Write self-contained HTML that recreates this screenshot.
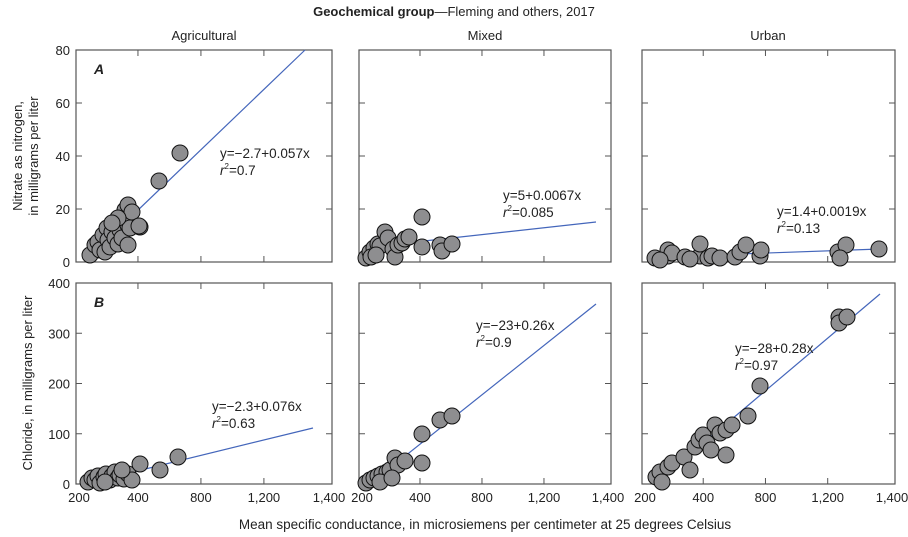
<!DOCTYPE html>
<html><head><meta charset="utf-8"><style>
html,body{margin:0;padding:0;background:#fff}
svg{display:block}
text{font-family:"Liberation Sans Narrow","Liberation Sans",sans-serif;fill:#222}
</style></head><body>
<svg id="s" width="908" height="537" viewBox="0 0 908 537" xmlns="http://www.w3.org/2000/svg">
<text x="454" y="16" font-size="13" text-anchor="middle"><tspan font-weight="bold">Geochemical group</tspan>—Fleming and others, 2017</text>
<text x="204" y="40" font-size="13" text-anchor="middle">Agricultural</text>
<text x="485" y="40" font-size="13" text-anchor="middle">Mixed</text>
<text x="768" y="40" font-size="13" text-anchor="middle">Urban</text>
<text transform="translate(22,156) rotate(-90)" font-size="13" text-anchor="middle">Nitrate as nitrogen,</text>
<text transform="translate(38,156) rotate(-90)" font-size="13" text-anchor="middle">in milligrams per liter</text>
<text transform="translate(32,383) rotate(-90)" font-size="13" text-anchor="middle">Chloride, in milligrams per liter</text>
<text x="485" y="529" font-size="13.5" text-anchor="middle">Mean specific conductance, in microsiemens per centimeter at 25 degrees Celsius</text>
<g id="g"></g>
</svg>
<script>
var g=document.getElementById('g'),NS='http://www.w3.org/2000/svg';
function el(n,a,t){var e=document.createElementNS(NS,n);for(var k in a)e.setAttribute(k,a[k]);if(t!=null)e.textContent=t;g.appendChild(e);return e;}
var cols=[[76,332],[359,611],[642,895]],rows=[[50,262,80,20],[283,484,400,100]];
var fr=[0.242,0.488,0.734];
rows.forEach(function(r,ri){cols.forEach(function(c,ci){
 el('rect',{x:c[0],y:r[0],width:c[1]-c[0],height:r[1]-r[0],fill:'none',stroke:'#555','stroke-width':1.2});
 for(var v=r[3];v<r[2];v+=r[3]){var y=r[1]-(v/r[2])*(r[1]-r[0]);
  el('line',{x1:c[0],x2:c[0]+6,y1:y,y2:y,stroke:'#555'});el('line',{x1:c[1]-6,x2:c[1],y1:y,y2:y,stroke:'#555'});}
 fr.forEach(function(f){var x=c[0]+f*(c[1]-c[0]);
  el('line',{x1:x,x2:x,y1:r[0],y2:r[0]+6,stroke:'#555'});el('line',{x1:x,x2:x,y1:r[1]-6,y2:r[1],stroke:'#555'});});
 if(ci==0){for(var v=0;v<=r[2];v+=r[3]){var y=r[1]-(v/r[2])*(r[1]-r[0]);el('text',{x:c[0]-6,y:y+5,'font-size':13,'text-anchor':'end'},v);}}
 if(ri==1){
  el('text',{x:c[0]+3,y:502,'font-size':13,'text-anchor':'middle'},'200');
  ['400','800','1,200'].forEach(function(l,i){el('text',{x:c[0]+fr[i]*(c[1]-c[0]),y:502,'font-size':13,'text-anchor':'middle'},l);});
  el('text',{x:c[1]-3,y:502,'font-size':13,'text-anchor':'middle'},'1,400');}
});});
var pts=[
[[90,255],[95,245],[98,242],[100,250],[103,235],[105,252],[107,228],[108,240],[110,247],[112,232],[115,238],[118,244],[120,230],[122,238],[125,220],[128,225],[130,228],[128,245],[125,210],[128,205],[132,212],[118,218],[112,223],[140,227],[139,226],[180,153],[159,181]],
[[366,258],[370,252],[374,248],[378,244],[380,246],[385,232],[388,238],[393,249],[395,257],[398,245],[402,243],[405,239],[409,237],[422,217],[422,247],[440,245],[442,251],[452,244],[371,257],[376,255]],
[[655,258],[668,256],[668,250],[672,253],[685,257],[700,256],[700,244],[708,258],[712,256],[720,258],[735,257],[740,252],[746,245],[760,256],[761,250],[838,252],[846,245],[879,249],[840,258],[660,260],[690,259]],
[[88,482],[92,478],[95,480],[98,476],[100,483],[104,477],[106,474],[110,480],[112,476],[115,472],[118,478],[120,475],[124,479],[128,474],[132,480],[105,482],[140,464],[160,470],[178,457],[122,470]],
[[366,483],[370,480],[374,478],[378,476],[382,474],[387,472],[390,470],[395,458],[398,465],[405,461],[422,463],[422,434],[440,420],[452,416],[380,482],[392,478]],
[[656,477],[660,472],[668,467],[672,463],[684,457],[690,470],[695,447],[699,440],[703,435],[707,443],[711,450],[715,425],[720,433],[726,430],[732,425],[726,455],[748,416],[760,386],[839,317],[839,323],[847,317],[662,482]]];
var lines=[[88,258,305,50],[370,247,596,222],[654,257,880,249],[88,483,313,428],[370,484,596,304],[655,484,880,294]];
[0,1,2,3,4,5].forEach(function(i){
 el('line',{x1:lines[i][0],y1:lines[i][1],x2:lines[i][2],y2:lines[i][3],stroke:'#4466bb','stroke-width':1.2});
 pts[i].forEach(function(p){el('circle',{cx:p[0],cy:p[1],r:8,fill:'#8e8e90',stroke:'#111','stroke-width':1});});
});
var eq=[[220,158,'y=−2.7+0.057x','0.7'],[503,200,'y=5+0.0067x','0.085'],[777,216,'y=1.4+0.0019x','0.13'],[212,411,'y=−2.3+0.076x','0.63'],[476,330,'y=−23+0.26x','0.9'],[735,353,'y=−28+0.28x','0.97']];
eq.forEach(function(e){el('text',{x:e[0],y:e[1],'font-size':13.5},e[2]);
 var t=el('text',{x:e[0],y:e[1]+17,'font-size':13.5});
 t.innerHTML='<tspan font-style="italic">r</tspan><tspan font-size="8" dy="-6">2</tspan><tspan dy="6">='+e[3]+'</tspan>';});
el('text',{x:94,y:74,'font-size':14,'font-weight':'bold','font-style':'italic'},'A');
el('text',{x:94,y:307,'font-size':14,'font-weight':'bold','font-style':'italic'},'B');
</script>
</body></html>
